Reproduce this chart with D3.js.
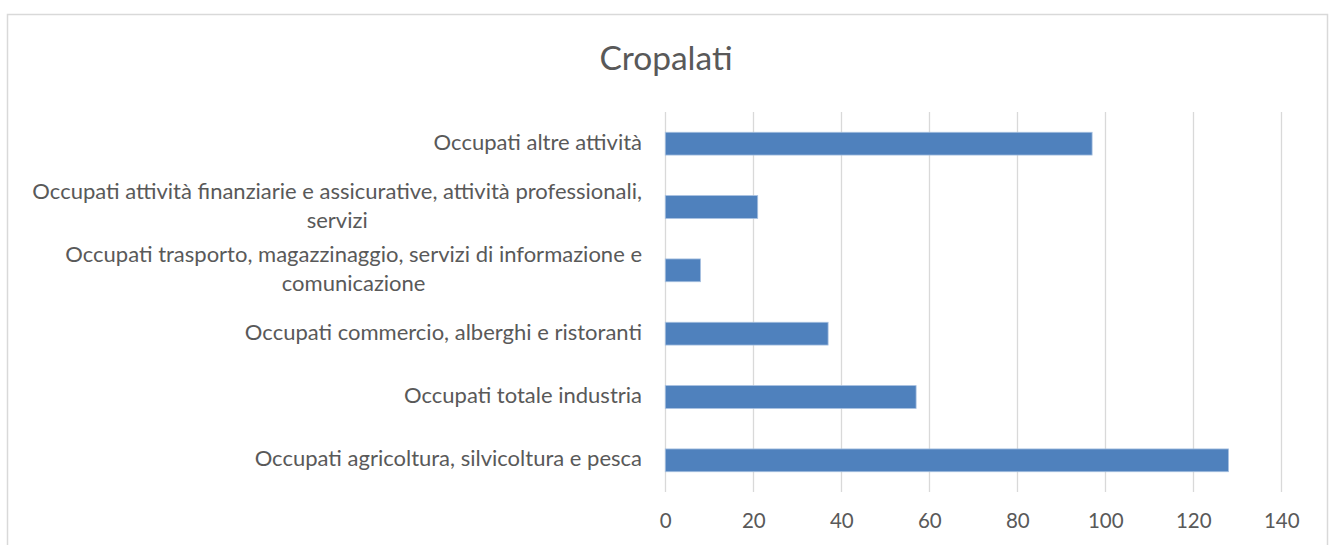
<!DOCTYPE html>
<html>
<head>
<meta charset="utf-8">
<script src="https://cdn.jsdelivr.net/npm/d3@7"></script>
<style>
  html, body { margin: 0; padding: 0; background: #ffffff; }
  svg { display: block; }
  text { font-family: Lato, "Open Sans", sans-serif; fill: #595959; }
</style>
</head>
<body>
<svg id="chart" width="1332" height="545"></svg>
<script>
// Occupati per settore – Cropalati
const chartTitle = "Cropalati";
const categories = [
  ["Occupati agricoltura, silvicoltura e pesca"],
  ["Occupati totale industria"],
  ["Occupati commercio, alberghi e ristoranti"],
  ["Occupati trasporto, magazzinaggio, servizi di informazione e", "comunicazione"],
  ["Occupati attività finanziarie e assicurative, attività professionali,", "servizi"],
  ["Occupati altre attività"]
];
const values = [128, 57, 37, 8, 21, 97];
const xTicks = [0, 20, 40, 60, 80, 100, 120, 140];

const plot = { left: 665.3, right: 1281.3, top: 112, bottom: 492 };

const svg = d3.select("#chart");

// chart frame
svg.append("rect")
  .attr("x", 7.5).attr("y", 14.5)
  .attr("width", 1320).attr("height", 560)
  .attr("fill", "#ffffff")
  .attr("stroke", "#d9d9d9")
  .attr("stroke-width", 1.5);

// title
svg.append("text")
  .attr("x", 666).attr("y", 70)
  .attr("text-anchor", "middle")
  .style("font-size", "33.5px")
  .text(chartTitle);

const x = d3.scaleLinear().domain([0, 140]).range([plot.left, plot.right]);
const keys = categories.map((c, i) => i);
const y = d3.scaleBand()
  .domain(keys)
  .range([plot.bottom, plot.top])
  .paddingInner(0.64)
  .paddingOuter(0.32);

// vertical gridlines
svg.append("g")
  .selectAll("line")
  .data(xTicks)
  .join("line")
  .attr("x1", d => Math.round(x(d)) + 0.5)
  .attr("x2", d => Math.round(x(d)) + 0.5)
  .attr("y1", plot.top)
  .attr("y2", plot.bottom)
  .attr("stroke", "#d9d9d9")
  .attr("stroke-width", 1.3);

// x axis labels
const xAxis = d3.axisBottom(x).tickValues(xTicks).tickSize(0).tickPadding(0);
const gx = svg.append("g")
  .attr("transform", `translate(0,${plot.bottom})`)
  .call(xAxis);
gx.select(".domain").remove();
gx.selectAll("text")
  .attr("dy", null)
  .attr("y", 30.5)
  .attr("dominant-baseline", "middle")
  .style("font-size", "20.5px")
  .style("font-family", "Lato, 'Open Sans', sans-serif")
  .attr("fill", "#595959");

// bars
svg.append("g")
  .selectAll("rect")
  .data(values)
  .join("rect")
  .attr("x", x(0))
  .attr("y", (d, i) => y(i))
  .attr("width", d => x(d) - x(0))
  .attr("height", y.bandwidth())
  .attr("fill", "#4f81bd")
  .attr("stroke", "#a7c0e0")
  .attr("stroke-width", 0.8);

// category labels, wrapped lines centred as a block, right-aligned to the axis
const labelRight = 642;
const lineGap = 29;
const lg = svg.append("g").style("font-size", "22px");
categories.forEach((lines, i) => {
  const cy = y(i) + y.bandwidth() / 2;
  const t = lg.append("text").attr("text-anchor", "middle").attr("dominant-baseline", "middle");
  const spans = lines.map((ln, k) =>
    t.append("tspan")
      .attr("y", cy + (k - (lines.length - 1) / 2) * lineGap)
      .text(ln)
  );
  const widest = d3.max(spans, s => s.node().getComputedTextLength());
  spans.forEach(s => s.attr("x", labelRight - widest / 2));
});
</script>
</body>
</html>
